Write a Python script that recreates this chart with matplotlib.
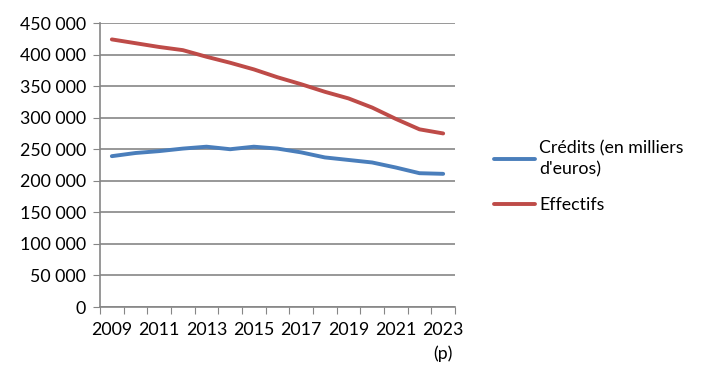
import matplotlib.pyplot as plt
import numpy as np

years = ['2009', '2010', '2011', '2012', '2013', '2014', '2015', '2016',
         '2017', '2018', '2019', '2020', '2021', '2022', '2023\n(p)']
credits = [239000, 244000, 247000, 251000, 254000, 250000, 254000, 251000,
           245000, 237000, 233000, 229000, 221000, 212000, 211000]
effectifs = [424000, 418000, 412000, 407000, 396500, 387000, 376500, 364000,
             353000, 341000, 330500, 316000, 298000, 281500, 275000]
labels = ["Crédits (en milliers\nd'euros)", 'Effectifs']

plt.rcParams['font.family'] = ['Lato', 'DejaVu Sans']
plt.rcParams['font.size'] = 12.8

fig = plt.figure(figsize=(7.16, 3.85), dpi=100)
ax = fig.add_axes([100 / 716, 78 / 385, 355 / 716, 284 / 385])

x = np.arange(len(years))
ax.plot(x, credits, color='#4A7EBB', lw=2.8, solid_capstyle='round',
        solid_joinstyle='round', label=labels[0])
ax.plot(x, effectifs, color='#BE4B48', lw=2.8, solid_capstyle='round',
        solid_joinstyle='round', label=labels[1])

ax.set_xlim(-0.5, len(years) - 0.5)
ax.set_ylim(0, 450000)
ax.set_yticks(np.arange(0, 450001, 50000))
ax.set_yticklabels([f'{v:,}'.replace(',', ' ') for v in range(0, 450001, 50000)])
ax.yaxis.grid(True, color='#868686', lw=1.2)
ax.set_axisbelow(True)

# ticks between categories, labels every other year
ax.set_xticks(np.arange(-0.5, len(years), 1))
ax.set_xticklabels([])
ax.set_xticks(x[::2], minor=True)
ax.set_xticklabels(years[::2], minor=True, linespacing=1.5)
ax.tick_params(axis='x', which='major', length=5, color='#868686', direction='out')
ax.tick_params(axis='x', which='minor', length=0, pad=11)
ax.tick_params(axis='y', length=5, color='#868686', direction='out', pad=5)

for s in ['top', 'right']:
    ax.spines[s].set_visible(False)
for s in ['left', 'bottom']:
    ax.spines[s].set_color('#868686')
    ax.spines[s].set_linewidth(1.2)

leg = ax.legend(loc='center left', bbox_to_anchor=(1.065, 0.46), frameon=False,
                handlelength=2.3, handletextpad=0.25, labelspacing=1.1)
for t in leg.get_texts():
    t.set_linespacing(1.4)

fig.savefig('out.png', dpi=100)
